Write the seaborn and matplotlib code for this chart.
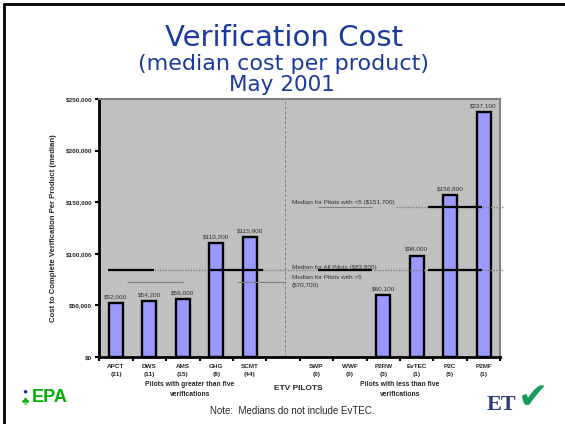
import numpy as np
import pandas as pd
import seaborn as sns
import matplotlib.pyplot as plt
from matplotlib.lines import Line2D

# data
pilots = ["APCT", "DWS", "AMS", "GHG", "SCMT", " ", "SWP", "WWF", "P2RW", "EvTEC", "P2C", "P2MF"]
counts = ["(21)", "(11)", "(15)", "(8)", "(44)", "", "(0)", "(0)", "(3)", "(1)", "(5)", "(1)"]
costs = [52000, 54200, 56000, 110200, 115900, np.nan, 0, 0, 60100, 98000, 156800, 237100]
y_ticks = [0, 50000, 100000, 150000, 200000, 250000]

median_all = 83800
median_all_drawn = 84000
median_gt5_drawn = 73000
median_lt5_drawn = 145000

df = pd.DataFrame({"pilot": pilots, "cost": costs})

sns.set_style("white")
plt.rcParams["font.family"] = ["Liberation Sans", "DejaVu Sans"]

fig = plt.figure(figsize=(5.65, 4.24), dpi=100)
ax = fig.add_axes([99.3 / 565, 1 - 357 / 424, 401 / 565, 258 / 424])
ax.set_facecolor("#C0C0C0")

sns.barplot(data=df, x="pilot", y="cost", order=pilots, color="#9999FF",
            edgecolor="black", linewidth=1.7, width=0.42, saturation=1, ax=ax)

ax.set_xlim(-0.5, 11.5)
ax.set_ylim(0, 250000)
ax.set_yticks(y_ticks)
ax.set_yticklabels([f"${v:,.0f}" for v in y_ticks], fontsize=4.6, fontweight="bold")
ax.tick_params(axis="y", direction="out", length=3, width=1.5, color="black", pad=2, left=True)

ax.set_xticks(range(len(pilots)))
ax.set_xticklabels([f"{p}\n{c}" for p, c in zip(pilots, counts)], fontsize=4.6,
                   fontweight="bold", linespacing=1.7)
ax.tick_params(axis="x", which="major", length=0, pad=5)
ax.set_xticks(np.arange(-0.5, 12, 1), minor=True)
ax.tick_params(axis="x", which="minor", direction="out", length=3, width=1.5,
               color="black", bottom=True)

ax.set_xlabel("")
ax.set_ylabel("Cost to Complete Verification Per Product (median)", fontsize=5.6,
              fontweight="bold")
ax.yaxis.set_label_coords(-0.105, 0.5)

for side in ["left", "bottom"]:
    ax.spines[side].set_color("black")
    ax.spines[side].set_linewidth(2)
for side in ["top", "right"]:
    ax.spines[side].set_color("#808080")
    ax.spines[side].set_linewidth(1.5)

# value labels above bars, zero bars are not shown
for p in ax.patches:
    h = p.get_height()
    if h > 0:
        ax.text(p.get_x() + p.get_width() / 2, h + 4000, f"${h:,.0f}",
                ha="center", va="bottom", fontsize=4.6, color="#333333")
    else:
        p.set_visible(False)

# separator between groups
ax.axvline(5.06, color="#808080", lw=0.7, ls=(0, (3, 2)), zorder=1)

# median lines
dot = dict(color="#808080", lw=1.0, ls=(0, (1, 1)), zorder=1)
solid = dict(color="black", lw=1.6, zorder=4)
ax.hlines(median_all_drawn, 1.14, 11.58, clip_on=False, **dot)
for x0, x1 in [(-0.24, 1.14), (2.75, 4.4), (6.04, 7.66), (9.34, 10.95)]:
    ax.hlines(median_all_drawn, x0, x1, **solid)
ax.hlines(median_lt5_drawn, 8.39, 11.58, clip_on=False, **dot)
ax.hlines(median_lt5_drawn, 9.34, 10.95, **solid)
ax.hlines(median_lt5_drawn + 400, 6.04, 7.66, color="#808080", lw=0.7, zorder=3)
for x0, x1 in [(0.33, 2.01), (3.62, 5.06)]:
    ax.hlines(median_gt5_drawn, x0, x1, color="#808080", lw=0.8, zorder=3)

txt = dict(fontsize=4.6, color="#333333", ha="left", va="center", zorder=5)
ax.text(5.27, 149500, "Median for Pilots with <5 ($151,700)", **txt)
ax.text(5.27, 87000, f"Median for All Pilots (${median_all:,.0f})", **txt)
ax.text(5.27, 77300, "Median for Pilots with >5", **txt)
ax.text(5.27, 69600, "($70,700)", **txt)

# titles
navy = "#1A3A9C"
title_font = dict(color=navy, ha="center", va="baseline", family="DejaVu Sans")
fig.text(284 / 565, 1 - 45.7 / 424, "Verification Cost", fontsize=21, **title_font)
fig.text(283 / 565, 1 - 70 / 424, "(median cost per product)", fontsize=16, **title_font)
fig.text(282 / 565, 1 - 91 / 424, "May 2001", fontsize=15.5, **title_font)

# group captions below the axis
grp = dict(fontsize=4.9, fontweight="bold", ha="center", va="center")
fig.text(190 / 565, 1 - 385 / 424, "Pilots with greater than five", **grp)
fig.text(190 / 565, 1 - 395 / 424, "verifications", **grp)
fig.text(400 / 565, 1 - 385 / 424, "Pilots with less than five", **grp)
fig.text(400 / 565, 1 - 395 / 424, "verifications", **grp)
fig.text(298 / 565, 1 - 388 / 424, "ETV PILOTS", fontsize=6, fontweight="bold",
         ha="center", va="center")
fig.text(292 / 565, 1 - 411 / 424, "Note:  Medians do not include EvTEC.", fontsize=7,
         ha="center", va="center")

# logos
fig.text(25 / 565, 1 - 392 / 424, "\u25CF", fontsize=6, color="#1030A0", ha="center", va="center")
fig.text(25 / 565, 1 - 401 / 424, "\u2663", fontsize=8, color="#00B000", ha="center", va="center")
fig.text(32 / 565, 1 - 397 / 424, "EPA", fontsize=13, fontweight="heavy", color="#00B000",
         ha="left", va="center")
fig.text(487 / 565, 1 - 405 / 424, "ET", fontsize=16, fontweight="bold", color="#2B3A7A",
         family="Liberation Serif", ha="left", va="center")
fig.text(533 / 565, 1 - 398 / 424, "\u2714", fontsize=26, color="#169C5A",
         family="DejaVu Sans", ha="center", va="center")

# slide border (top and left)
fig.add_artist(Line2D([4 / 565, 4 / 565], [0, 1 - 4 / 424], transform=fig.transFigure,
                      color="black", lw=2))
fig.add_artist(Line2D([4 / 565, 1], [1 - 4 / 424, 1 - 4 / 424], transform=fig.transFigure,
                      color="black", lw=2))

fig.savefig("out.png", dpi=100)
